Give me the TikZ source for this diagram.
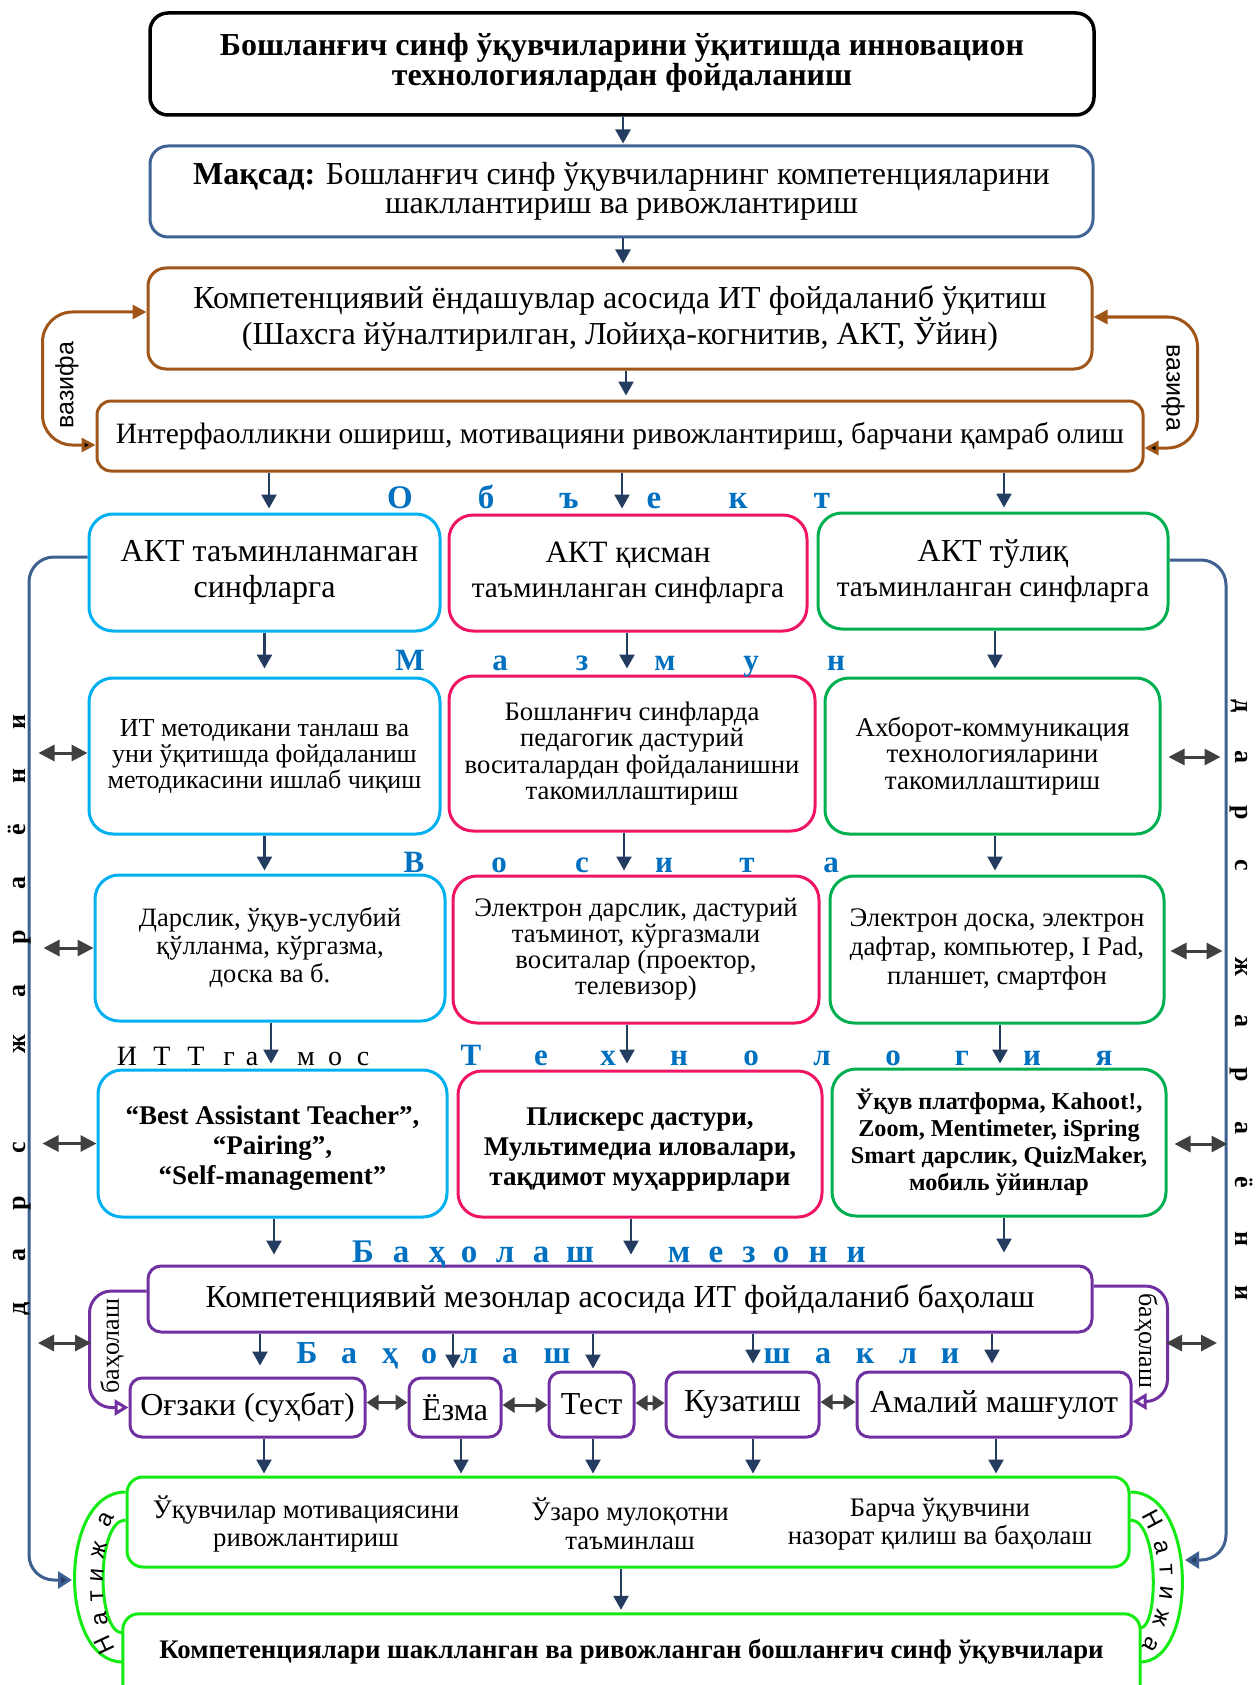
\documentclass[tikz,border=0pt]{standalone}
\usepackage{fontspec}
\setmainfont{Liberation Serif}
\newfontfamily\sansf{Liberation Sans}
\usetikzlibrary{arrows.meta}
\definecolor{navy}{RGB}{35,60,95}
\definecolor{bxblue}{RGB}{65,100,150}
\definecolor{brn}{RGB}{160,85,25}
\definecolor{cyanb}{RGB}{0,176,240}
\definecolor{pinkb}{RGB}{240,20,100}
\definecolor{greenb}{RGB}{0,176,80}
\definecolor{purp}{RGB}{112,48,160}
\definecolor{limeg}{RGB}{20,235,20}
\definecolor{dgray}{RGB}{64,64,64}
\definecolor{lblue}{RGB}{0,112,192}
\definecolor{sideblue}{RGB}{62,96,145}
\newcommand\fsz[2]{\fontsize{#1pt}{#2pt}\selectfont}
\newcommand\vconn[4]{\draw[arr, shorten >=#4pt] ([xshift=#3pt]#1.south) -- ([xshift=#3pt]#1.south |- #2.north);}
\tikzset{
  bx/.style={draw, line width=3pt, rounded corners=18pt, inner sep=0pt, align=center, fill=white},
  cy/.style={bx, draw=cyanb, rounded corners=24pt},
  pk/.style={bx, draw=pinkb, rounded corners=24pt},
  gr/.style={bx, draw=greenb, rounded corners=24pt},
  pu/.style={bx, draw=purp, rounded corners=13pt},
  arr/.style={draw=navy, line width=2.5pt, -{Triangle[length=14pt,width=15pt]}},
  dbl/.style={draw=dgray, line width=3pt, {Triangle[length=16pt,width=16pt]}-{Triangle[length=16pt,width=16pt]}},
  dbls/.style={draw=dgray, line width=3pt, {Triangle[length=12pt,width=15pt]}-{Triangle[length=12pt,width=15pt]}},
  vz/.style={draw=brn, line width=3pt, rounded corners=30pt},
  side/.style={draw=sideblue, line width=3pt, rounded corners=25pt, -{Triangle[length=14pt,width=17pt,fill=navy]}},
  pb/.style={draw=purp, line width=3pt, rounded corners=22pt, -{Triangle[open,length=14pt,width=16pt,fill=white]}},
  nat/.style={draw=limeg, line width=3pt},
  bl/.style={text=lblue, font=\fsz{33}{33}\bfseries, anchor=base, inner sep=0pt},
  blk/.style={text=black, font=\fsz{28}{28}, anchor=base, inner sep=0pt},
  sidel/.style={font=\fsz{26}{26}\bfseries, anchor=mid, inner sep=0pt},
  natl/.style={font=\sansf\fsz{24}{24}, anchor=mid, inner sep=0pt},
}
\begin{document}
\begin{tikzpicture}[x=1pt,y=-1pt]
\useasboundingbox (0,0) rectangle (1255,1685);
\fill[white] (0,0) rectangle (1255,1685);

\coordinate (natL) at (72,1580);
\coordinate (natR) at (1185,1560);

% main boxes
\node[bx, draw=black, line width=3.5pt, minimum width=944pt, minimum height=102pt, font=\fsz{32}{29}\bfseries] (t) at (622,64)
  {Бошланғич синф ўқувчиларини ўқитишда инновацион\\технологиялардан фойдаланиш\rule[-10pt]{0pt}{1pt}};
\node[bx, draw=bxblue, minimum width=943pt, minimum height=91pt, font=\fsz{32}{28.5}] (m) at (621.5,191.5)
  {\textbf{Мақсад:} Бошланғич синф ўқувчиларнинг компетенцияларини\\шакллантириш ва ривожлантириш};
\node[bx, draw=brn, minimum width=944pt, minimum height=101pt, font=\fsz{32}{31}] (k) at (620,318.5)
  {Компетенциявий ёндашувлар асосида ИТ фойдаланиб ўқитиш\\(Шахсга йўналтирилган, Лойиҳа-когнитив, АКТ, Ўйин)};
\node[bx, draw=brn, rounded corners=14pt, minimum width=1046pt, minimum height=70pt, font=\fsz{29.5}{32}] (i) at (620,436)
  {Интерфаолликни ошириш, мотивацияни ривожлантириш, барчани қамраб олиш};

% vazifa loops
\draw[vz, {Triangle[length=14pt,width=14pt,fill=black]}-{Triangle[length=14pt,width=14pt]}]
  ([yshift=-9pt]i.west) -| ([xshift=-104pt,yshift=6.5pt]k.west) -- ([yshift=6.5pt]k.west);
\draw[vz, {Triangle[length=14pt,width=14pt,fill=black]}-{Triangle[length=14pt,width=14pt]}]
  ([yshift=-12pt]i.east) -| ([xshift=104pt,yshift=1.5pt]k.east) -- ([yshift=1.5pt]k.east);
\node[font=\sansf\fsz{25}{25}, rotate=90, inner sep=0pt] (vzl) at (67,385) {вазифа};
\node[font=\sansf\fsz{25}{25}, rotate=-90, inner sep=0pt] (vzr) at (1173,388) {вазифа};

% row A
\node[cy, minimum width=351pt, minimum height=117pt, font=\fsz{32}{36}] (a1) at (264.5,572.5)
  {\hspace*{10pt}АКТ таъминланмаган\\синфларга};
\node[pk, minimum width=358pt, minimum height=116pt, font=\fsz{29.3}{35}] (a2) at (628,573)
  {{\fsz{31}{35}АКТ қисман}\\таъминланган синфларга};
\node[gr, minimum width=350pt, minimum height=116pt, font=\fsz{29.3}{35}] (a3) at (993,571)
  {{\fsz{32}{35}АКТ тўлиқ}\\таъминланган синфларга};
% row B
\node[cy, minimum width=351pt, minimum height=156pt, font=\fsz{26}{26}] (b1) at (264.5,756)
  {ИТ методикани танлаш ва\\уни ўқитишда фойдаланиш\\методикасини ишлаб чиқиш};
\node[pk, minimum width=366pt, minimum height=155pt, font=\fsz{26.7}{26.5}] (b2) at (632,753.5)
  {Бошланғич синфларда\\педагогик дастурий\\воситалардан фойдаланишни\\такомиллаштириш};
\node[gr, minimum width=335pt, minimum height=156pt, font=\fsz{27}{26.5}] (b3) at (992.5,756)
  {Ахборот-коммуникация\\технологияларини\\такомиллаштириш};
% row C
\node[cy, minimum width=350pt, minimum height=146pt, font=\fsz{26.5}{28}] (c1) at (270,948)
  {Дарслик, ўқув-услубий\\қўлланма, кўргазма,\\доска ва б.};
\node[pk, minimum width=366pt, minimum height=147pt, font=\fsz{26.7}{26}] (c2) at (636,949.5)
  {Электрон дарслик, дастурий\\таъминот, кўргазмали\\воситалар (проектор,\\телевизор)};
\node[gr, minimum width=334pt, minimum height=147pt, font=\fsz{26.8}{29}] (c3) at (997,949.5)
  {Электрон доска, электрон\\дафтар, компьютер, I Pad,\\планшет, смартфон};
% row D
\node[cy, minimum width=349pt, minimum height=147pt, font=\fsz{27}{30}\bfseries] (d1) at (272.5,1143.5)
  {\rule{0pt}{28pt}“Best Assistant Teacher”,\\“Pairing”,\\“Self-management”};
\node[pk, minimum width=364pt, minimum height=146pt, font=\fsz{27}{30}\bfseries] (d2) at (640,1144)
  {\rule{0pt}{28pt}Плискерс дастури,\\Мультимедиа иловалари,\\тақдимот муҳаррирлари};
\node[gr, minimum width=334pt, minimum height=147pt, font=\fsz{24.2}{27}\bfseries] (d3) at (999,1142.5)
  {Ўқув платформа, Kahoot!,\\Zoom, Mentimeter, iSpring\\Smart дарслик, QuizMaker,\\мобиль ўйинлар};
% row E
\node[pu, minimum width=944pt, minimum height=66pt, font=\fsz{32}{32}] (e) at (620,1299)
  {Компетенциявий мезонлар асосида ИТ фойдаланиб баҳолаш};
% row F
\node[pu, rounded corners=12pt, minimum width=235pt, minimum height=59pt, font=\fsz{32}{32}] (f1) at (247.5,1407.5) {Оғзаки (суҳбат)};
\node[pu, rounded corners=12pt, minimum width=92pt, minimum height=59pt, font=\fsz{32}{32}] (f2) at (455,1407.5) {Ёзма};
\node[pu, rounded corners=12pt, minimum width=85pt, minimum height=65pt, font=\fsz{32}{32}] (f3) at (591.5,1404.5) {Тест};
\node[pu, rounded corners=12pt, minimum width=153pt, minimum height=65pt, font=\fsz{32}{32}] (f4) at (742.5,1404.5) {Кузатиш};
\node[pu, rounded corners=12pt, minimum width=274pt, minimum height=65pt, font=\fsz{32}{32}] (f5) at (994,1404.5) {Амалий машғулот};
% row G, H
\node[bx, draw=limeg, rounded corners=16pt, minimum width=1002pt, minimum height=90pt] (g) at (628,1522) {};
\node[align=center, inner sep=0pt, font=\fsz{26.8}{28.5}] (g1) at (306,1524) {Ўқувчилар мотивациясини\\ривожлантириш};
\node[align=center, inner sep=0pt, font=\fsz{26.8}{28.5}] (g2) at (630,1524) {Ўзаро мулоқотни\\таъминлаш};
\node[align=center, inner sep=0pt, font=\fsz{26.8}{28.5}] (g3) at (940,1524) {Барча ўқувчини\\назорат қилиш ва баҳолаш};
\node[minimum width=1017pt, minimum height=76pt, inner sep=0pt, font=\fsz{26.8}{26.8}\bfseries] (h) at (631.5,1652)
  {Компетенциялари шаклланган ва ривожланган бошланғич синф ўқувчилари};
\draw[draw=limeg, line width=3pt, rounded corners=16pt] (h.south west) -- (h.north west) -- (h.north east) -- (h.south east);

% natija brackets
\draw[nat] ([yshift=30pt]g.west) .. controls (58,1492) and (58,1662) .. ([yshift=-10pt]h.west);
\draw[nat] ([yshift=2pt]g.west) .. controls (96,1520) and (96,1633) .. ([yshift=19pt]h.west);
\draw[nat] ([yshift=30pt]g.east) .. controls (1198,1492) and (1198,1662) .. ([yshift=-10pt]h.east);
\draw[nat] ([yshift=2pt]g.east) .. controls (1159,1520) and (1159,1628) .. ([yshift=24pt]h.east);
\foreach \c/\x/\y/\r [count=\n] in {Н/110/1643/115, а/105/1618/100, т/101/1596/92, и/101/1576/85, ж/103/1551/75, а/110/1522/62}
  \node[natl, rotate=\r] (nl\n) at (\x,\y) {\c};
\foreach \c/\x/\y/\r [count=\n] in {Н/1148/1522/-62, а/1157/1548/-75, т/1162/1570/-87, и/1162/1592/-97, ж/1157/1617/-108, а/1147/1642/-120}
  \node[natl, rotate=\r] (nr\n) at (\x,\y) {\c};

% blue side lines
\draw[side] ([yshift=15.5pt]a1.west) -| ([xshift=-43pt]natL) -- (natL);
\draw[side] ([yshift=11pt]a3.east) -| ([xshift=41pt]natR) -- (natR);

% baholash loops
\draw[pb] ([yshift=8pt]e.west) -| ([xshift=-39pt]f1.west) -- (f1.west);
\draw[pb] ([yshift=13pt]e.east) -| ([xshift=35pt,yshift=3pt]f5.east) -- ([yshift=3pt]f5.east);
\node[font=\fsz{26}{26}, rotate=90, inner sep=0pt] (bhl) at (112,1346) {баҳолаш};
\node[font=\fsz{26}{26}, rotate=-90, inner sep=0pt] (bhr) at (1146,1341) {баҳолаш};

% vertical connectors
\vconn{t}{m}{1}{1}
\vconn{m}{k}{1.5}{3}
\vconn{k}{i}{6}{4}
\vconn{i}{a1}{-351}{4}
\vconn{i}{a2}{2}{5}
\vconn{i}{a3}{384}{4}
\vconn{a1}{b1}{0}{8}
\vconn{a2}{b2}{-1}{6}
\vconn{a3}{b3}{2}{8}
\vconn{b1}{c1}{0}{3}
\vconn{b2}{c2}{-8}{4}
\vconn{b3}{c3}{2.5}{4}
\vconn{c1}{d1}{1}{5}
\vconn{c2}{d2}{-9}{6}
\vconn{c3}{d3}{3}{4}
\vconn{d1}{e}{1.5}{10}
\vconn{d2}{e}{-9}{10}
\vconn{d3}{e}{5}{12}
\vconn{e}{f1}{-360}{11}
\vconn{e}{f2}{-167}{8}
\vconn{e}{f3}{-27}{2}
\vconn{e}{f4}{133}{7}
\vconn{e}{f5}{372}{7}
\vconn{f1}{g}{16.5}{2}
\vconn{f2}{g}{6}{2}
\vconn{f3}{g}{1.5}{2}
\vconn{f4}{g}{10.5}{2}
\vconn{f5}{g}{2}{2}
\vconn{g}{h}{-7}{4}

% double arrows
\draw[dbl] ([xshift=-49pt,yshift=3pt]b1.west) -- ([yshift=3pt]b1.west);
\draw[dbl] ([xshift=-50pt]c1.west) -- (c1.west);
\draw[dbl] ([xshift=-54pt]d1.west) -- (d1.west);
\coordinate (pL) at (91,1343);
\draw[dbl] ([xshift=-53pt]pL) -- (pL);
\draw[dbl] ([xshift=7pt,yshift=-1pt]b3.east) -- ++(52,0);
\draw[dbl] ([xshift=5pt,yshift=-1.5pt]c3.east) -- ++(52,0);
\draw[dbl] ([xshift=7pt,yshift=-1.5pt]d3.east) -- ++(53,0);
\coordinate (pR) at (1166,1343);
\draw[dbl] (pR) -- ++(51,0);
\draw[dbls] ([yshift=5pt]f1.east) -- ([yshift=5pt]f2.west);
\draw[dbls] ([yshift=2.5pt]f2.east) -- ([yshift=2.5pt]f2.east -| f3.west);
\draw[dbls] ([yshift=1.5pt]f3.east) -- ([yshift=1.5pt]f4.west);
\draw[dbls] ([yshift=2.5pt]f4.east) -- ([yshift=2.5pt]f5.west);

% spaced letter rows
\foreach \c/\x [count=\n] in {О/400,б/486,ъ/569,е/654,к/738,т/822}
  \node[bl] (ob\n) at (\x,508) {\c};
\foreach \c/\x [count=\n] in {М/410,а/500,з/582,м/665,у/751,н/836}
  \node[bl, font=\fsz{31}{31}\bfseries] (mz\n) at (\x,670) {\c};
\foreach \c/\x [count=\n] in {В/414,о/499,с/582,и/664,т/747,а/831}
  \node[bl, font=\fsz{31}{31}\bfseries] (vs\n) at (\x,872) {\c};
\foreach \c/\x [count=\n] in {И/127,Т/162,Т/196,г/229,а/252,м/306,о/335,с/363}
  \node[blk] (it\n) at (\x,1065) {\c};
\foreach \c/\x [count=\n] in {Т/471,е/541,х/608,н/679,о/751,л/822,о/893,г/962,и/1032,я/1104}
  \node[bl, font=\fsz{31}{31}\bfseries] (tx\n) at (\x,1065) {\c};
\foreach \c/\x [count=\n] in {Б/363,а/401,ҳ/437,о/469,л/505,а/541,ш/580,м/679,е/716,з/749,о/781,н/818,и/856}
  \node[bl] (bm\n) at (\x,1262) {\c};
\foreach \c/\x [count=\n] in {Б/307,а/349,ҳ/390,о/429,л/469,а/510,ш/557,ш/777,а/823,к/865,л/908,и/950}
  \node[bl, font=\fsz{32}{32}\bfseries] (bs\n) at (\x,1363) {\c};

% side vertical words
\foreach \c/\y [count=\n] in {д/1309,а/1255,р/1203,с/1148,ж/1044,а/991,р/937,а/883,ё/830,н/776,и/722}
  \node[sidel, rotate=90] (sl\n) at (23,\y) {\c};
\foreach \c/\y [count=\n] in {д/706,а/757,р/813,с/865,ж/967,а/1021,р/1075,а/1128,ё/1182,н/1239,и/1293}
  \node[sidel, rotate=-90] (sr\n) at (1238,\y) {\c};
\end{tikzpicture}
\end{document}
